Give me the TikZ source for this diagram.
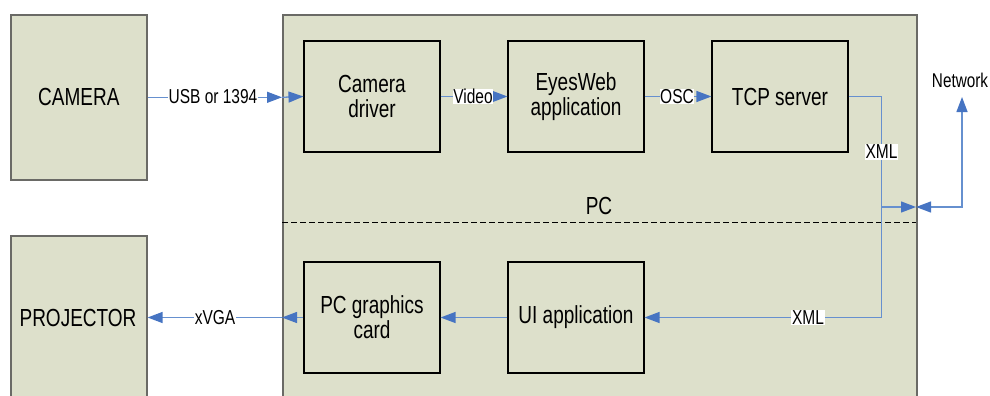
\documentclass[tikz,border=0pt]{standalone}
\usepackage{fontspec}
\setmainfont{Liberation Sans}
\usetikzlibrary{arrows.meta}
\definecolor{boxfill}{HTML}{DDE0CB}
\definecolor{linkblue}{HTML}{6690CF}
\definecolor{tipblue}{HTML}{4674C2}
\definecolor{outerline}{HTML}{6A6A66}
\newcommand{\tallt}[1]{\scalebox{1}[1.3]{#1}}
\tikzset{
  outerbox/.style={draw=outerline, line width=1.6pt, fill=boxfill, inner sep=0pt},
  innerbox/.style={draw=black, line width=1.1pt, fill=boxfill, minimum width=136pt, minimum height=111pt, align=center, font=\fontsize{19}{25}\selectfont, inner sep=0pt},
  maintext/.style={font=\fontsize{19}{25}\selectfont, inner sep=0pt},
  conn/.style={draw=linkblue, line width=1.3pt},
  tip/.tip={Triangle[length=15pt,width=11pt,color=tipblue]},
  arr/.style={conn, -tip},
  lbl/.style={fill=white, inner sep=0.6pt, font=\fontsize{15.5}{18}\selectfont},
}
\begin{document}
\begin{tikzpicture}[x=1pt,y=-1pt]
\useasboundingbox (0,0) rectangle (990,396);
\clip (0,0) rectangle (990,396);
% outer boxes
\node[outerbox, minimum width=136pt, minimum height=165pt, anchor=north west] (camera) at (10,14) {};
\node[maintext] (cameratext) at (camera.center) {\tallt{CAMERA}};
\node[outerbox, minimum width=136pt, minimum height=200pt, anchor=north west] (projector) at (10,235) {};
\node[maintext] (projectortext) at (78,317.5) {\tallt{PROJECTOR}};
\node[outerbox, minimum width=634pt, minimum height=420pt, anchor=north west] (pc) at (282,14) {};
% dashed divider and PC label
\coordinate (dl) at (282,222);
\coordinate (dr) at (916,222);
\draw[black, line width=0.9pt, dash pattern=on 6pt off 3pt] (dl) -- (dr);
\node[maintext] (pclabel) at (599,206) {\tallt{PC}};
% inner boxes
\node[innerbox] (driver) at (372,96.5) {\tallt{Camera}\\\tallt{driver}};
\node[innerbox] (eyesweb) at (576,96.5) {\tallt{EyesWeb}\\\tallt{application}};
\node[innerbox] (tcp) at (780,96.5) {\tallt{TCP server}};
\node[innerbox] (gfx) at (372,317.5) {\tallt{PC graphics}\\\tallt{card}};
\node[innerbox] (ui) at (576,317.5) {\tallt{UI application}};
% camera -> driver
\coordinate (pcin) at (camera.east -| pc.west);
\draw[arr] (camera.east) -- (pcin);
\draw[arr] (pcin) -- (driver.west);
\node[lbl] (usb) at (213,96.5) {\tallt{USB or 1394}};
% driver -> eyesweb -> tcp
\draw[arr] (driver.east) -- (eyesweb.west);
\node[lbl] (video) at (473,96.5) {\tallt{Video}};
\draw[arr] (eyesweb.east) -- (tcp.west);
\node[lbl] (osc) at (677,96.5) {\tallt{OSC}};
% XML route
\coordinate (xa) at (881.5,96.5);
\coordinate (xb) at (881.5,317.5);
\coordinate (xc) at (881.5,207);
\coordinate (pcout) at (916,207);
\draw[conn] (tcp.east) -- (xa) -- (xb);
\draw[arr] (xb) -- (ui.east);
\draw[arr] (xc) -- (pcout);
\node[lbl] (xmltop) at (881.5,152) {\tallt{XML}};
\node[lbl] (xmlbot) at (808,317.5) {\tallt{XML}};
% network
\coordinate (nc) at (962,207);
\coordinate (nt) at (962,97);
\draw[conn, tip-tip] (pcout) -- (nc) -- (nt);
\node[font=\fontsize{15.3}{18}\selectfont, inner sep=0pt] (network) at (960,80) {\tallt{Network}};
% ui -> gfx -> projector
\draw[arr] (ui.west) -- (gfx.east);
\coordinate (pcleft) at (gfx.west -| pc.west);
\draw[arr] (gfx.west) -- (pcleft);
\draw[arr] (pcleft) -- (projector.east |- gfx.west);
\node[lbl] (xvga) at (215,317.5) {\tallt{xVGA}};
\end{tikzpicture}
\end{document}
